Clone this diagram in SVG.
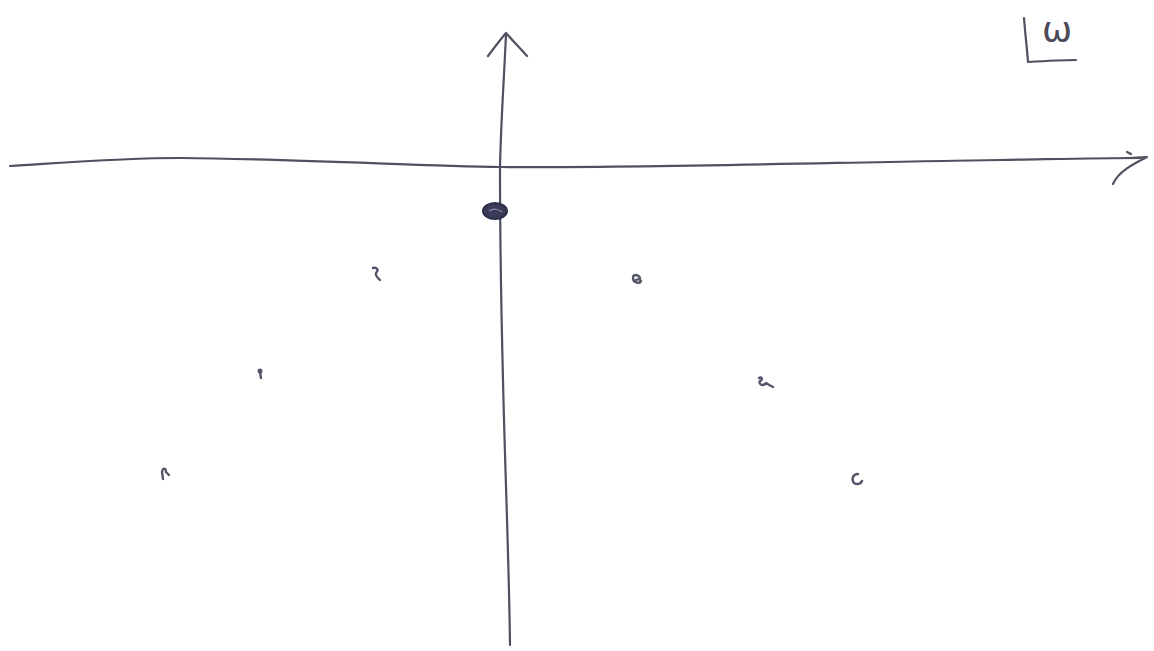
<svg xmlns="http://www.w3.org/2000/svg" width="1154" height="651" viewBox="0 0 1154 651">
<style>
.ax{fill:none;stroke:#4f5060;stroke-width:2.2;stroke-linecap:round;stroke-linejoin:round}
.mk{fill:none;stroke:#55566a;stroke-width:2.4;stroke-linecap:round;stroke-linejoin:round}
.lbl{font-family:"DejaVu Sans","Liberation Sans",sans-serif;fill:#4a4a58}
</style>
<rect width="1154" height="651" fill="#ffffff"/>
<g id="connectors">
<path class="ax" d="M10,166 C60,163 120,158 180,158 C300,159 420,166 500,167 C650,168 850,162 1000,160 C1060,159 1100,158 1140,158"/>
<path class="ax" d="M1127,152 L1131,154 M1125,158 C1133,158 1140,157 1147,157 C1133,164 1118,172 1113,184" stroke-width="2.6"/>
<path class="ax" d="M510,645 C509,560 505,470 503,380 C501,300 500,230 500,167 C501,120 504,80 506,34"/>
<path class="ax" d="M488,56 C494,48 500,40 506,33 C513,41 520,48 527,56"/>
</g>
<g id="origin-point">
<ellipse cx="495" cy="211" rx="12" ry="8" fill="#3a3b58" stroke="#2e2f48" stroke-width="2"/>
<path d="M489,211 C493,208 499,209 502,212" fill="none" stroke="#8a8cb0" stroke-width="1.2"/>
</g>
<g id="p1"><path class="mk" d="M373,268 C377,267 379,270 376,273 C375,276 378,278 380,280"/></g>
<g id="p2"><path class="mk" d="M640,278 C638,274 633,274 633,278 C633,283 640,284 641,281 C640,279 637,279 636,280"/></g>
<g id="p3"><circle cx="260" cy="371" r="2.5" fill="#55566a"/><path class="mk" d="M260,372 L261,378"/></g>
<g id="p4"><path class="mk" d="M759,378 C762,376 763,380 760,381 C758,384 763,387 766,383 C769,385 771,386 773,387"/></g>
<g id="p5"><path class="mk" d="M163,479 L162,472 C163,467 166,468 166,472 L169,475"/></g>
<g id="p6"><path class="mk" d="M858,474 C853,474 851,479 854,483 C857,485 861,484 862,481"/></g>
<g id="omega-label">
<path class="ax" d="M1024,18 C1025,32 1027,48 1028,62 C1044,61 1060,60 1076,60" stroke-width="3"/>
<text class="lbl" x="1042" y="42" font-size="36">ω</text>
</g>
</svg>
